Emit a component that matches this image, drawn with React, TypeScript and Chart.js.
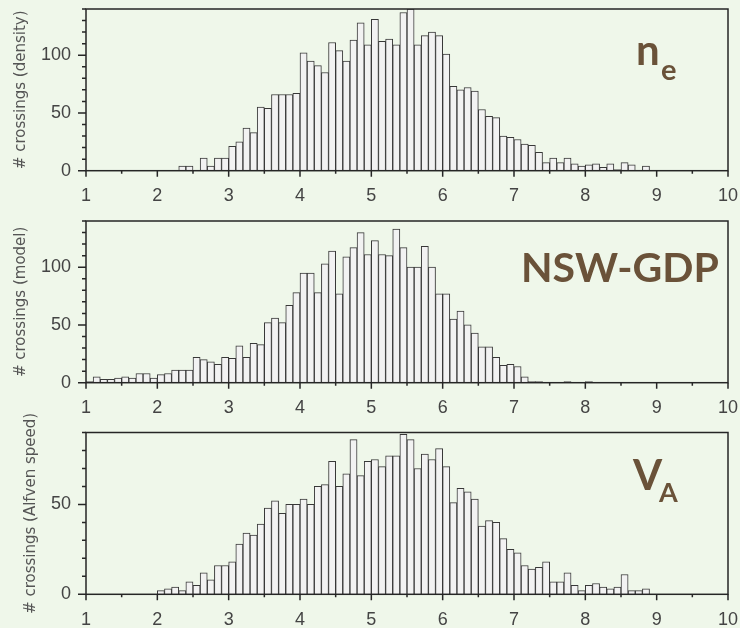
import React, { useEffect, useRef } from 'react';
import { Chart, registerables } from 'chart.js';

Chart.register(...registerables);

// ---- data (bins of width 0.1 from 1.0 to 9.9) ----
const xTickLabels = ['1', '2', '3', '4', '5', '6', '7', '8', '9', '10'];
const yTickLabelValues = [0, 50, 100];

const densityCounts = [
  0, 0, 0, 0, 0, 0, 0, 0, 0, 0,
  0, 0, 0, 4, 4, 0, 11, 4, 11, 11,
  21, 25, 37, 33, 55, 54, 66, 66, 66, 67,
  102, 95, 91, 85, 111, 104, 95, 113, 128, 109,
  131, 112, 114, 109, 137, 140, 109, 117, 120, 117,
  101, 73, 70, 72, 69, 53, 47, 46, 30, 29,
  27, 23, 22, 16, 7, 11, 7, 11, 6, 4,
  5, 6, 3, 6, 1, 7, 5, 0, 4, 0,
  0, 0, 0, 0, 0, 0, 0, 0, 0, 0,
];

const modelCounts = [
  1, 5, 3, 3, 4, 5, 4, 8, 8, 4,
  7, 8, 11, 11, 11, 22, 20, 18, 16, 22,
  21, 32, 22, 34, 33, 52, 56, 52, 67, 78,
  95, 95, 78, 103, 114, 77, 109, 117, 130, 111,
  123, 111, 110, 133, 117, 100, 100, 118, 100, 77,
  77, 55, 62, 50, 43, 31, 31, 22, 15, 16,
  14, 5, 1, 1, 0, 0, 0, 1, 0, 0,
  1, 0, 0, 0, 0, 0, 0, 0, 0, 0,
  0, 0, 0, 0, 0, 0, 0, 0, 0, 0,
];

const alfvenCounts = [
  0, 0, 0, 0, 0, 0, 0, 0, 0, 0,
  2, 3, 4, 2, 7, 5, 12, 8, 16, 16,
  18, 28, 34, 33, 39, 48, 52, 45, 50, 50,
  53, 50, 60, 61, 74, 60, 67, 86, 66, 74,
  75, 71, 77, 77, 89, 86, 70, 78, 75, 81,
  71, 51, 59, 57, 53, 38, 41, 40, 31, 25,
  23, 16, 14, 15, 18, 7, 7, 12, 5, 2,
  5, 6, 4, 3, 4, 11, 2, 2, 3, 0,
  0, 0, 0, 0, 0, 0, 0, 0, 0, 0,
];

const X_MIN = 1;
const X_MAX = 10;
const BIN_WIDTH = 0.1;

const BG = '#eff7ea';
const INK = '#262626';
const BROWN = '#6a5239';

type Annot = { text: string; x: number; y: number; font: string };

type PanelProps = {
  top: number;
  height: number;
  areaTop: number;
  areaBottom: number;
  yMax: number;
  counts: number[];
  yTitle: string;
  titlePad: number;
  xLabelPad: number;
  annots: Annot[];
};

const frameTicksPlugin = {
  id: 'frameTicks',
  afterDraw(chart: any, _args: any, opts: any) {
    const { ctx, chartArea: a, scales } = chart;
    const x = scales.x;
    const y = scales.y;
    ctx.save();
    ctx.strokeStyle = INK;
    ctx.lineWidth = 1.5;
    ctx.strokeRect(a.left, a.top, a.right - a.left, a.bottom - a.top);
    ctx.beginPath();
    for (let v = X_MIN; v <= X_MAX + 1e-9; v += 0.5) {
      const px = x.getPixelForValue(v);
      const major = Math.abs(v - Math.round(v)) < 1e-6;
      ctx.moveTo(px, a.bottom);
      ctx.lineTo(px, a.bottom + (major ? 6 : 3));
    }
    for (let v = 0; v <= opts.yMax + 1e-9; v += 10) {
      const py = y.getPixelForValue(v);
      const major = v % 50 === 0;
      ctx.moveTo(a.left, py);
      ctx.lineTo(a.left - (major ? 8 : 4), py);
    }
    ctx.stroke();
    ctx.fillStyle = BROWN;
    ctx.textBaseline = 'alphabetic';
    ctx.textAlign = 'left';
    for (const t of opts.annots as Annot[]) {
      ctx.font = t.font;
      ctx.fillText(t.text, t.x, t.y);
    }
    ctx.restore();
  },
};

function Panel(p: PanelProps) {
  const ref = useRef<HTMLCanvasElement>(null);
  useEffect(() => {
    if (!ref.current) return;
    const data = p.counts.map((c, i) => ({ x: X_MIN + BIN_WIDTH * (i + 0.5), y: c }));
    const chart = new Chart(ref.current, {
      type: 'bar',
      data: {
        datasets: [
          {
            data: data as any,
            backgroundColor: '#f2f2f2',
            borderColor: '#383838',
            borderWidth: 1,
            barPercentage: 1,
            categoryPercentage: 1,
          },
        ],
      },
      options: {
        responsive: false,
        animation: false,
        devicePixelRatio: 1,
        layout: { padding: { top: p.areaTop, right: 12, left: 0, bottom: 0 } },
        plugins: {
          legend: { display: false },
          tooltip: { enabled: false },
          frameTicks: { yMax: p.yMax, annots: p.annots },
        } as any,
        scales: {
          x: {
            type: 'linear',
            min: X_MIN,
            max: X_MAX,
            offset: false,
            grid: { display: false, drawTicks: false },
            border: { display: false },
            ticks: {
              stepSize: 1,
              includeBounds: false,
              padding: p.xLabelPad,
              color: '#444',
              font: { family: 'Liberation Sans', size: 18 },
              maxRotation: 0,
              autoSkip: false,
              callback: (v: any) => {
                const idx = xTickLabels.indexOf(String(v));
                return idx >= 0 ? xTickLabels[idx] : '';
              },
            },
            afterFit: (s: any) => {
              s.height = p.height - p.areaBottom;
              s.paddingLeft = 0;
              s.paddingRight = 0;
            },
          },
          y: {
            type: 'linear',
            min: 0,
            max: p.yMax,
            grid: { display: false, drawTicks: false },
            border: { display: false },
            ticks: {
              stepSize: 50,
              includeBounds: false,
              padding: 15,
              color: '#444',
              font: { family: 'Liberation Sans', size: 18 },
              callback: (v: any) => (yTickLabelValues.includes(Number(v)) ? String(v) : ''),
            },
            title: {
              display: true,
              text: p.yTitle,
              color: '#555',
              font: { family: 'DejaVu Sans', size: 15 },
              padding: { top: p.titlePad, bottom: 0 },
            },
            afterFit: (s: any) => {
              s.width = 86;
              s.paddingTop = 0;
              s.paddingBottom = 0;
            },
          },
        },
      },
      plugins: [frameTicksPlugin],
    });
    return () => chart.destroy();
  }, []);
  return (
    <canvas
      ref={ref}
      width={740}
      height={p.height}
      style={{ position: 'absolute', left: 0, top: p.top, width: 740, height: p.height }}
    />
  );
}

export default function App() {
  return (
    <div style={{ position: 'fixed', left: 0, top: 0, width: 740, height: 628, background: BG, overflow: 'hidden' }}>
      <Panel
        top={0}
        height={205}
        areaTop={9}
        areaBottom={170.7}
        yMax={140}
        counts={densityCounts}
        yTitle="# crossings (density)"
        titlePad={12.5}
        xLabelPad={14.5}
        annots={[
          { text: 'n', x: 636, y: 65, font: 'bold 42px Lato' },
          { text: 'e', x: 661, y: 79.5, font: 'bold 29px Lato' },
        ]}
      />
      <Panel
        top={205}
        height={215}
        areaTop={16}
        areaBottom={177.7}
        yMax={140}
        counts={modelCounts}
        yTitle="# crossings (model)"
        titlePad={12.5}
        xLabelPad={14.5}
        annots={[{ text: 'NSW-GDP', x: 521, y: 77, font: 'bold 41px Lato' }]}
      />
      <Panel
        top={395}
        height={233}
        areaTop={37.5}
        areaBottom={199.3}
        yMax={90}
        counts={alfvenCounts}
        yTitle="# crossings (Alfven speed)"
        titlePad={22}
        xLabelPad={15}
        annots={[
          { text: 'V', x: 633, y: 95, font: 'bold 42px Lato' },
          { text: 'A', x: 659, y: 106.5, font: 'bold 27px Lato' },
        ]}
      />
    </div>
  );
}
